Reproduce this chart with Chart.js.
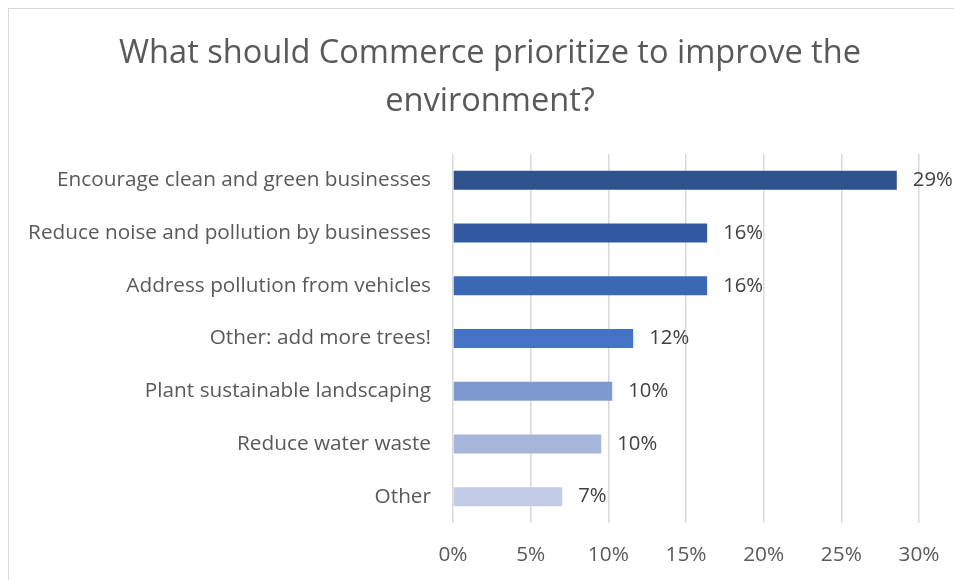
<!DOCTYPE html>
<html><head><meta charset="utf-8">
<script src="https://cdn.jsdelivr.net/npm/chart.js@4"></script>
<style>
html,body{margin:0;padding:0;background:#fff;overflow:hidden;}
#wrap{position:absolute;left:0;top:0;width:954px;height:580px;}
#frame{position:absolute;left:8px;top:8px;width:980px;height:620px;border-left:1.5px solid #d9d9d9;border-top:1.5px solid #d9d9d9;}
#c{position:absolute;left:0;top:0;}
</style></head>
<body><div id="wrap"><div id="frame"></div><canvas id="c" width="954" height="580"></canvas></div>
<script>
const categories = [
  'Encourage clean and green businesses',
  'Reduce noise and pollution by businesses',
  'Address pollution from vehicles',
  'Other: add more trees!',
  'Plant sustainable landscaping',
  'Reduce water waste',
  'Other'
];
const values = [28.57, 16.36, 16.36, 11.6, 10.25, 9.54, 7.03];
const barColors = ['#2F528F', '#335AA0', '#3A68B5', '#4472C4', '#7F9ACF', '#A6B5DA', '#C3CCE6'];
const xTicks = [0, 5, 10, 15, 20, 25, 30];
const titleLines = ['What should Commerce prioritize to improve the', 'environment?'];

const FAMILY = 'Open Sans';
function fitSize(text, target) {
  const c = document.createElement('canvas').getContext('2d');
  c.font = '100px "' + FAMILY + '"';
  return 100 * target / c.measureText(text).width;
}
const titleSize = fitSize(titleLines[0], 742);
const catSize = fitSize(categories[1], 403);
const valSize = fitSize('29%', 40);
const tickSize = fitSize('30%', 41);

const labelPlugin = {
  id: 'dataLabels',
  afterDatasetsDraw(chart) {
    const ctx = chart.ctx;
    const meta = chart.getDatasetMeta(0);
    ctx.save();
    ctx.font = valSize + 'px "' + FAMILY + '"';
    ctx.fillStyle = '#404040';
    ctx.textBaseline = 'middle';
    ctx.textAlign = 'left';
    meta.data.forEach((el, i) => {
      ctx.fillText(Math.round(chart.data.datasets[0].data[i]) + '%', el.x + 16, el.y);
    });
    ctx.restore();
  }
};

new Chart(document.getElementById('c').getContext('2d'), {
  type: 'bar',
  data: {
    labels: categories,
    datasets: [{
      data: values,
      backgroundColor: barColors,
      barPercentage: 0.36,
      categoryPercentage: 1
    }]
  },
  options: {
    indexAxis: 'y',
    responsive: false,
    animation: false,
    layout: { padding: { top: 0, right: 0, bottom: 0, left: 26 } },
    plugins: {
      legend: { display: false },
      tooltip: { enabled: false },
      title: {
        display: true,
        text: titleLines,
        color: '#595959',
        font: { family: FAMILY, size: titleSize, weight: 'normal', lineHeight: 48 / titleSize },
        padding: { top: 30, bottom: 28 }
      }
    },
    scales: {
      x: {
        min: xTicks[0],
        max: xTicks[xTicks.length - 1],
        afterBuildTicks: s => { s.ticks = xTicks.map(v => ({ value: v })); },
        ticks: {
          callback: v => v + '%',
          color: '#595959',
          font: { family: FAMILY, size: tickSize },
          padding: 20,
          maxRotation: 0
        },
        grid: { color: '#d9d9d9', lineWidth: 1.5, drawTicks: false },
        border: { display: false },
        afterFit: s => { s.height = 57; s.paddingRight = 35; s.paddingLeft = 0; }
      },
      y: {
        ticks: { color: '#595959', font: { family: FAMILY, size: catSize }, padding: 22 },
        grid: { display: false, drawTicks: false },
        border: { display: false },
        afterFit: s => { s.width = 427; }
      }
    }
  },
  plugins: [labelPlugin]
});
</script>
</body></html>
